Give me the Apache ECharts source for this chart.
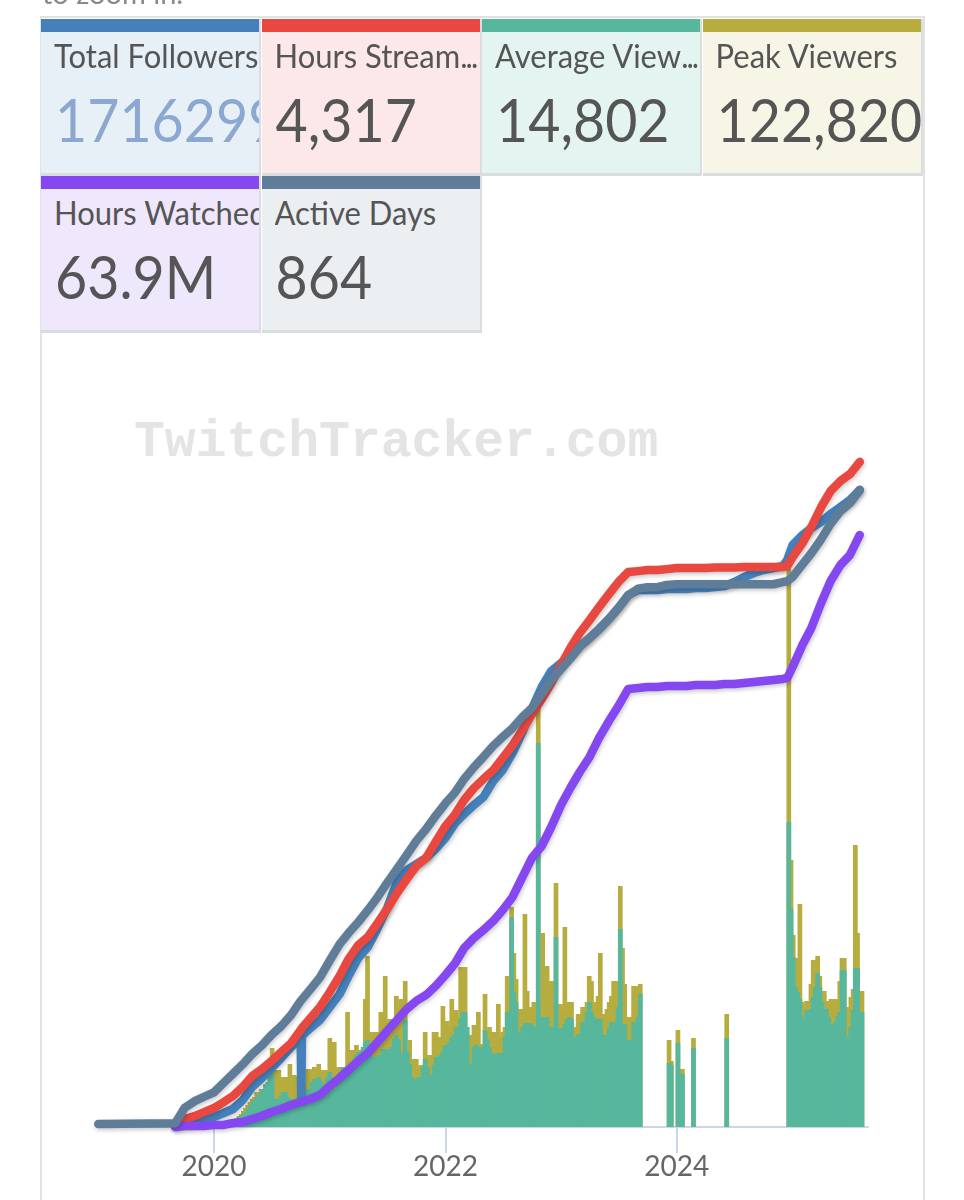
<!DOCTYPE html>
<html>
<head>
<meta charset="utf-8">
<title>TwitchTracker</title>
<script src="https://cdn.jsdelivr.net/npm/echarts@6/dist/echarts.min.js"></script>
<style>
    html, body { margin: 0; padding: 0; background: #fff; overflow: hidden; }
    body { width: 964px; height: 1200px; position: relative; font-family: Lato, sans-serif; }
    #chart { position: absolute; left: 0; top: 0; width: 964px; height: 1200px; }
    #frame { position: absolute; left: 40px; top: 16px; width: 885px; height: 1190px;
             border: 2px solid #e2e2e2; box-sizing: border-box; }
    #hint { position: absolute; left: 42px; top: -19px; font-size: 29px; line-height: 24px; color: #8a8a8a; }
    .card { position: absolute; width: 220px; height: 157px; box-sizing: border-box;
            border-right: 2px solid #d9dde0; border-bottom: 3px solid #d9dde0; overflow: hidden; }
    .card .strip { height: 13px; }
    .card .label { position: absolute; left: 13px; right: 0; top: 16px; font-size: 31px; line-height: 40px;
                   color: #555; white-space: nowrap; overflow: hidden; transform: scaleY(1.06); }
    .card .label span { letter-spacing: -2px; }
    .card .value { position: absolute; left: 14px; top: 67px; font-size: 55.5px; line-height: 66px;
                   color: #555; white-space: nowrap; transform: scaleY(1.08); }
</style>
</head>
<body>
<div id="chart"></div>
<div id="frame"></div>
<div id="hint">to zoom in.</div>
<div id="cards"></div>
<script>
// Stat cards
const cardLabels = ['Total Followers', 'Hours Stream', 'Average View', 'Peak Viewers', 'Hours Watched', 'Active Days'];
const cardTruncated = [false, true, true, false, false, false];
const cardValues = ['1716299', '4,317', '14,802', '122,820', '63.9M', '864'];

// Cumulative lines, sampled about monthly
const lineDates = [
    '2019-01-01',
    '2019-09-01', '2019-10-01', '2019-11-01', '2019-12-01',
    '2020-01-01', '2020-02-01', '2020-03-01', '2020-04-01', '2020-05-01', '2020-06-01', '2020-07-01', '2020-08-01', '2020-09-01',
    '2020-10-01', '2020-10-03', '2020-10-05', '2020-11-01', '2020-12-01',
    '2021-01-01', '2021-02-01', '2021-03-01', '2021-04-01', '2021-05-01', '2021-06-01', '2021-07-01', '2021-08-01', '2021-09-01', '2021-10-01', '2021-11-01', '2021-12-01',
    '2022-01-01', '2022-02-01', '2022-03-01', '2022-04-01', '2022-05-01', '2022-06-01', '2022-07-01', '2022-08-01', '2022-09-01', '2022-10-01', '2022-11-01', '2022-12-01',
    '2023-01-01', '2023-02-01', '2023-03-01', '2023-04-01', '2023-05-01', '2023-06-01', '2023-07-01', '2023-08-01', '2023-09-01', '2023-10-01', '2023-11-01', '2023-12-01',
    '2024-01-01', '2024-02-01', '2024-03-01', '2024-04-01', '2024-05-01', '2024-06-01', '2024-07-01', '2024-08-01', '2024-09-01', '2024-10-01', '2024-11-01', '2024-12-01', '2024-12-15',
    '2025-01-01', '2025-02-01', '2025-03-01', '2025-04-01', '2025-05-01', '2025-06-01', '2025-07-01', '2025-08-01',
];
const followers = [
    null,
    2700, 8100, 13500, 18900,
    26900, 37700, 48500, 72700, 107800, 132000, 158900, 185900, 215500,
    242500, 78100, 245200, 266700, 288300,
    323300, 358300, 406800, 455300, 484900, 536100, 590000, 660000, 692400, 708500, 724700, 748900,
    778600, 819000, 843200, 867500, 889000, 932100, 961800, 1007600, 1064100, 1126100, 1185400, 1228500,
    1250000, 1274300, 1295800, 1317400, 1341600, 1368600, 1398200, 1433200, 1446700, 1446700, 1446700, 1449400,
    1449400, 1449400, 1452100, 1452100, 1454800, 1457500, 1468200, 1481700, 1492500, 1500600, 1506000, 1511300, 1527500,
    1567900, 1594800, 1613700, 1629900, 1651400, 1670300, 1689100, 1716299,
];
const hoursStreamed = [
    null,
    19, 52, 71, 97,
    123, 162, 201, 260, 331, 376, 428, 487, 545,
    630, 636, 643, 707, 779,
    876, 980, 1090, 1181, 1233, 1324, 1415, 1519, 1610, 1694, 1746, 1850,
    1953, 2031, 2122, 2200, 2259, 2317, 2395, 2479, 2577, 2680, 2778, 2882,
    2998, 3115, 3206, 3290, 3375, 3459, 3537, 3602, 3608, 3615, 3615, 3621,
    3628, 3628, 3628, 3628, 3631, 3631, 3631, 3634, 3634, 3634, 3634, 3634, 3641,
    3699, 3790, 3894, 4024, 4128, 4193, 4238, 4317,
];
const hoursWatched = [
    null,
    0, 0.11, 0.11, 0.11,
    0.22, 0.22, 0.43, 0.54, 0.86, 1.19, 1.62, 1.94, 2.37,
    2.7, 2.7, 2.7, 3.02, 3.45,
    4.43, 5.29, 6.15, 7.12, 7.99, 9.17, 10.36, 11.55, 12.74, 13.6, 14.25, 15.22,
    16.41, 17.7, 19.32, 20.4, 21.26, 22.24, 23.42, 24.83, 26.98, 29.04, 30.33, 32.38,
    34.76, 36.7, 38.32, 39.94, 41.99, 43.82, 45.44, 47.28, 47.39, 47.49, 47.49, 47.6,
    47.6, 47.6, 47.71, 47.71, 47.71, 47.82, 47.82, 47.93, 48.03, 48.14, 48.25, 48.36, 48.46,
    49.65, 52.03, 53.86, 56.56, 58.93, 60.66, 61.74, 63.9,
];
const activeDays = [
    4,
    5, 26, 35, 41,
    47, 60, 72, 85, 99, 111, 125, 137, 152,
    171, 172, 173, 187, 203,
    226, 248, 263, 278, 294, 312, 331, 350, 369, 388, 404, 422,
    439, 454, 472, 488, 502, 517, 529, 541, 556, 568, 587, 606,
    621, 636, 651, 663, 675, 689, 704, 721, 730, 732, 732, 735,
    736, 736, 736, 736, 736, 736, 736, 736, 736, 736, 736, 739, 740,
    746, 763, 778, 797, 818, 835, 846, 864,
];

// Weekly bars, first week below
const firstWeek = '2020-01-17';
const peakViewers = [
    440, 440, 660, 660, 880, 1100, 1320, 1760, 1980, 2420,
    2860, 3520, 4180, 4840, 5500, 6160, 6600, 7700, 7040, 8360,
    7920, 9460, 8800, 11440, 17380, 12540, 12540, 12540, 11000, 11000,
    11000, 11000, 13860, 11440, 11440, 11000, 9900, 9900, 9900, 9900,
    12760, 12760, 12760, 13200, 12760, 13860, 12540, 12540, 12540, 12540,
    19580, 13200, 18700, 13200, 13200, 13200, 13200, 13200, 25300, 16940,
    16940, 16940, 18040, 16940, 16940, 16940, 28160, 37620, 20900, 20900,
    20900, 20900, 20900, 25300, 19800, 33220, 23100, 23760, 23100, 23100,
    28820, 26400, 28160, 26400, 32120, 15400, 19140, 14960, 14960, 14960,
    13200, 13640, 13640, 20900, 15840, 15840, 15840, 20900, 20900, 19800,
    19800, 26620, 22000, 23320, 22000, 28160, 24200, 25740, 24200, 35200,
    35200, 35200, 20240, 20240, 20240, 22440, 22000, 25300, 18260, 18260,
    29260, 20900, 22000, 20900, 20900, 19800, 27060, 19800, 20900, 22000,
    33220, 30800, 48400, 38280, 32560, 25960, 25960, 25960, 46860, 29920,
    26400, 26400, 27500, 27500, 93940, 27500, 42680, 35200, 35420, 32120,
    32120, 32120, 53680, 27060, 27060, 25740, 44000, 27500, 27500, 27500,
    21340, 22000, 24860, 24860, 26400, 26400, 27500, 33220, 32120, 27500,
    27500, 28820, 38280, 24860, 24860, 25960, 27500, 28820, 32120, 32120,
    32120, 53020, 39380, 31460, 24200, 24200, 24200, 31020, 31020, 31020, 31460,
    null, null, null, null, null, null, null, null, null, null, null, null,
    19140, 14520, null, null, 21340, 12760, 12760, null, null, null, null, 19580,
    null, null, null, null, null, null, null, null, null, null, null, null, null, null,
    24860,
    null, null, null, null, null, null, null, null, null, null, null, null, null, null,
    null, null, null, null, null, null, null, null, null, null, null, null, null,
    122820, 58740, 42240, 37180, 37180, 49060, 27500, 26400, 27720, 27720,
    31460, 36740, 36740, 37620, 33220, 29920, 29920, 27720, 27720, 28160,
    28160, 28160, 28160, 32120, 37180, 37180, 26400, 25960, 28600, 30360,
    62040, 42680, 29920, 29920,
];
const averageViewers = [
    150, 150, 300, 450, 600, 750, 900, 1050, 1200, 1500,
    1650, 1950, 2250, 2700, 3150, 3600, 4050, 4500, 4800, 5250,
    5700, 6300, 6750, 7500, 7950, 4200, 4200, 4200, 4800, 5250,
    5250, 4500, 4200, 4200, 4200, 4200, 4500, 4500, 4800, 4800,
    5700, 5700, 6750, 7200, 7200, 7500, 6900, 6450, 6450, 7500,
    8250, 6000, 5250, 5700, 6750, 8250, 9000, 8700, 9000, 9300,
    9750, 10200, 10800, 11250, 11250, 12000, 12750, 13050, 11250, 10500,
    10200, 10500, 10800, 10500, 11700, 11700, 11400, 11700, 12000, 13200,
    13800, 13200, 10800, 11100, 16050, 11250, 9450, 7500, 7200, 7200,
    7500, 7500, 9000, 10200, 9000, 7800, 7800, 9300, 10500, 10500,
    10800, 11400, 12300, 12300, 12750, 13500, 13800, 15000, 15000, 16200,
    17250, 17250, 15000, 9450, 9450, 12000, 12300, 12000, 11700, 12000,
    14550, 13200, 12000, 11100, 10950, 10950, 11100, 11100, 10950, 13500,
    17250, 17250, 31500, 20250, 18750, 14250, 13050, 15000, 15600, 15600,
    15600, 15450, 15000, 15000, 57600, 16200, 16500, 16500, 16500, 15000,
    14550, 15000, 28500, 14850, 14850, 14250, 15450, 16200, 16500, 16200,
    12600, 13500, 13950, 13950, 15750, 15750, 17250, 18750, 17250, 16500,
    16200, 16200, 16200, 13800, 13800, 13800, 15000, 15750, 15750, 15750,
    18000, 29700, 15450, 15450, 13050, 13050, 13050, 15750, 15750, 16500, 19950,
    null, null, null, null, null, null, null, null, null, null, null, null,
    9600, 9300, null, null, 12600, 7950, 7950, null, null, null, null, 11850,
    null, null, null, null, null, null, null, null, null, null, null, null, null, null,
    13350,
    null, null, null, null, null, null, null, null, null, null, null, null, null, null,
    null, null, null, null, null, null, null, null, null, null, null, null, null,
    45750, 32700, 25500, 21000, 20250, 19200, 16500, 15450, 17550, 17550,
    17700, 19500, 21000, 23100, 21000, 18750, 17700, 17700, 16500, 15450,
    15450, 15750, 16650, 17250, 23550, 23550, 13500, 12600, 15000, 17550,
    23850, 23850, 17250, 17250,
];

const tickYears = [2020, 2022, 2024];

// Each measure has its own hidden scale
const axisMax = {
    followers: 1850800,
    hoursStreamed: 4459,
    averageViewers: 103050,
    peakViewers: 151140,
    hoursWatched: 74.15,
    activeDays: 931.6,
};

const colors = {
    followers: '#4580ba',
    hoursStreamed: '#e8483f',
    averageViewers: '#57b79d',
    peakViewers: '#b7ad3f',
    hoursWatched: '#8547f0',
    activeDays: '#5f7d98',
};

const cardBackgrounds = ['#e7eff7', '#fce8e8', '#e4f5f1', '#f7f6e6', '#efe7fb', '#ebeff2'];
const cardStrips = [colors.followers, colors.hoursStreamed, colors.averageViewers, colors.peakViewers, colors.hoursWatched, colors.activeDays];

function drawCards() {
    const holder = document.getElementById('cards');
    cardLabels.forEach((label, i) => {
        const card = document.createElement('div');
        card.className = 'card';
        card.style.left = (41 + (i % 4) * 220.5) + 'px';
        card.style.top = (i < 4 ? 19 : 176) + 'px';
        card.style.background = cardBackgrounds[i];
        card.innerHTML = '<div class="strip" style="background:' + cardStrips[i] + '"></div>'
            + '<div class="label">' + label + (cardTruncated[i] ? '<span>...</span>' : '') + '</div>'
            + '<div class="value"' + (i === 0 ? ' style="color:#8ca8d0"' : '') + '>' + cardValues[i] + '</div>';
        holder.appendChild(card);
    });
}

const toTime = d => new Date(d + 'T00:00:00').getTime();

function pairLine(values) {
    return lineDates.map((d, i) => [toTime(d), values[i]]);
}

function pairWeeks(values) {
    return values.map((v, i) => [toTime(firstWeek) + i * 7 * 86400000, v]);
}

function lineSeries(name, values, yAxisIndex) {
    return {
        name,
        type: 'line',
        yAxisIndex,
        data: pairLine(values),
        symbol: 'none',
        clip: false,
        z: 5,
        lineStyle: {
            color: colors[name],
            width: 8.5,
            cap: 'round',
            join: 'round',
            shadowColor: 'rgba(0, 0, 0, 0.22)',
            shadowBlur: 4,
            shadowOffsetX: 1,
            shadowOffsetY: 2,
        },
    };
}

function barSeries(name, values, yAxisIndex) {
    return {
        name,
        type: 'bar',
        yAxisIndex,
        data: pairWeeks(values),
        barWidth: 4.7,
        barGap: '-100%',
        itemStyle: { color: colors[name] },
    };
}

drawCards();

const chart = echarts.init(document.getElementById('chart'));
const names = Object.keys(axisMax);
const tickTimes = tickYears.map(y => toTime(y + '-01-01'));

chart.setOption({
    animation: false,
    backgroundColor: 'transparent',
    title: {
        text: 'TwitchTracker.com',
        left: 134,
        top: 418,
        padding: 0,
        textStyle: {
            fontFamily: 'Liberation Mono',
            fontWeight: 'bold',
            fontSize: 51.4,
            color: '#e4e4e4',
        },
    },
    grid: { left: 97, right: 96, top: 440, bottom: 73 },
    // Plain numeric axis in ms, so the two-year ticks can be placed exactly
    xAxis: {
        type: 'value',
        min: toTime('2018-12-28'),
        max: toTime('2025-08-27'),
        splitLine: { show: false },
        axisLine: { show: true, lineStyle: { color: '#ccd6eb', width: 2 } },
        axisTick: {
            show: true,
            length: 26,
            lineStyle: { color: '#ccd6eb', width: 2 },
            customValues: tickTimes,
        },
        axisLabel: {
            customValues: tickTimes,
            formatter: value => String(new Date(value).getFullYear()),
            margin: 26,
            color: '#666666',
            fontFamily: 'Lato',
            fontSize: 28,
        },
    },
    yAxis: names.map(name => ({ type: 'value', show: false, min: 0, max: axisMax[name] })),
    series: [
        barSeries('peakViewers', peakViewers, names.indexOf('peakViewers')),
        barSeries('averageViewers', averageViewers, names.indexOf('averageViewers')),
        lineSeries('followers', followers, names.indexOf('followers')),
        lineSeries('hoursStreamed', hoursStreamed, names.indexOf('hoursStreamed')),
        lineSeries('hoursWatched', hoursWatched, names.indexOf('hoursWatched')),
        lineSeries('activeDays', activeDays, names.indexOf('activeDays')),
    ],
});
</script>
</body>
</html>
